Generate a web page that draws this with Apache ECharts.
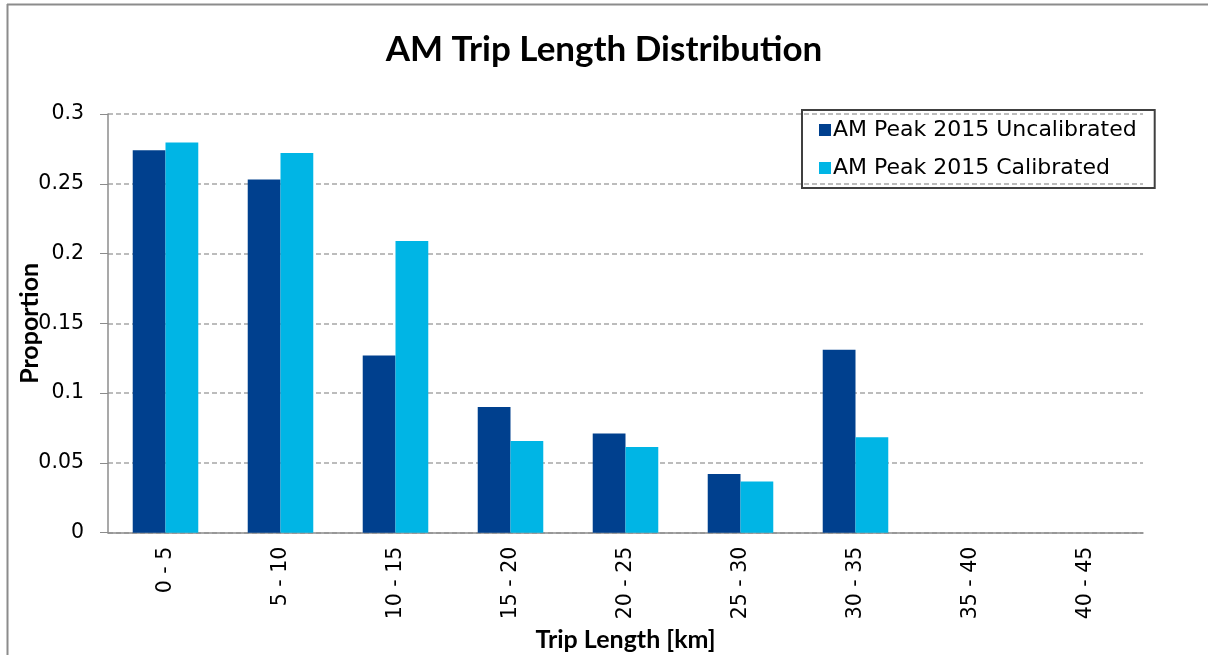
<!DOCTYPE html>
<html>
<head>
<meta charset="utf-8">
<script src="https://cdn.jsdelivr.net/npm/echarts@6/dist/echarts.min.js"></script>
<style>
html,body{margin:0;padding:0;background:#fff;overflow:hidden;}
#chart{width:1208px;height:655px;}
</style>
</head>
<body>
<div id="chart"></div>
<script>
const categories = ['0 - 5','5 - 10','10 - 15','15 - 20','20 - 25','25 - 30','30 - 35','35 - 40','40 - 45'];
const uncalibrated = [0.274, 0.253, 0.127, 0.090, 0.071, 0.042, 0.131, 0, 0];
const calibrated = [0.2795, 0.272, 0.209, 0.0657, 0.0614, 0.0366, 0.0684, 0, 0];
const yTicks = [0, 0.05, 0.1, 0.15, 0.2, 0.25, 0.3];

const chart = echarts.init(document.getElementById('chart'));
const titleFont = '"Lato", "Open Sans", sans-serif';
const tickFont = '"DejaVu Sans", sans-serif';
chart.setOption({
  animation: false,
  backgroundColor: '#fff',
  graphic: [
    {type: 'line', silent: true, shape: {x1: 7, y1: 4.5, x2: 1208, y2: 4.5}, style: {stroke: '#8c8c8c', lineWidth: 2}},
    {type: 'line', silent: true, shape: {x1: 7.5, y1: 4, x2: 7.5, y2: 655}, style: {stroke: '#8c8c8c', lineWidth: 2}}
  ],
  title: {
    text: 'AM Trip Length Distribution',
    left: 'center', top: 27,
    textStyle: {fontFamily: titleFont, fontSize: 35, fontWeight: 'bold', color: '#000'}
  },
  legend: {
    orient: 'vertical',
    left: 802, top: 110,
    padding: [9, 18, 9, 17],
    itemGap: 16,
    itemWidth: 12, itemHeight: 12,
    icon: 'rect',
    borderColor: '#404040', borderWidth: 2,
    textStyle: {fontFamily: tickFont, fontSize: 22, color: '#000', padding: [0,0,0,-3]},
    data: ['AM Peak 2015 Uncalibrated', 'AM Peak 2015 Calibrated']
  },
  grid: {left: 108, right: 65, top: 114, bottom: 122.3, outerBoundsMode: 'none', containLabel: false},
  xAxis: {
    type: 'category',
    data: categories,
    name: 'Trip Length [km]',
    nameLocation: 'middle',
    nameGap: 92,
    nameTextStyle: {fontFamily: titleFont, fontSize: 25, fontWeight: 'bold', color: '#000'},
    axisLine: {lineStyle: {color: '#8c8c8c', width: 1.5}},
    axisTick: {show: false},
    axisLabel: {rotate: 90, margin: 14, fontFamily: tickFont, fontSize: 20.5, color: '#000'}
  },
  yAxis: {
    type: 'value',
    min: 0, max: 0.3, interval: 0.05,
    name: 'Proportion',
    nameLocation: 'middle',
    nameGap: 66,
    nameMoveOverlap: false,
    nameTextStyle: {fontFamily: titleFont, fontSize: 25, fontWeight: 'bold', color: '#000'},
    axisLine: {show: true, lineStyle: {color: '#8c8c8c', width: 1.5}},
    axisTick: {show: true, inside: false, length: 8, lineStyle: {color: '#8c8c8c'}},
    axisLabel: {
      margin: 24, fontFamily: tickFont, fontSize: 20.5, color: '#000',
      formatter: v => { const t = yTicks.find(x => Math.abs(x - v) < 1e-9); return t === undefined ? '' : String(t); }
    },
    splitLine: {lineStyle: {color: '#a6a6a6', type: [5, 3], width: 1.5}}
  },
  series: [
    {
      name: 'AM Peak 2015 Uncalibrated', type: 'bar', data: uncalibrated,
      barGap: '0%', barCategoryGap: '43%',
      itemStyle: {color: '#00408e'}
    },
    {
      name: 'AM Peak 2015 Calibrated', type: 'bar', data: calibrated,
      barGap: '0%', barCategoryGap: '43%',
      itemStyle: {color: '#00b5e5'}
    }
  ]
});
</script>
</body>
</html>
